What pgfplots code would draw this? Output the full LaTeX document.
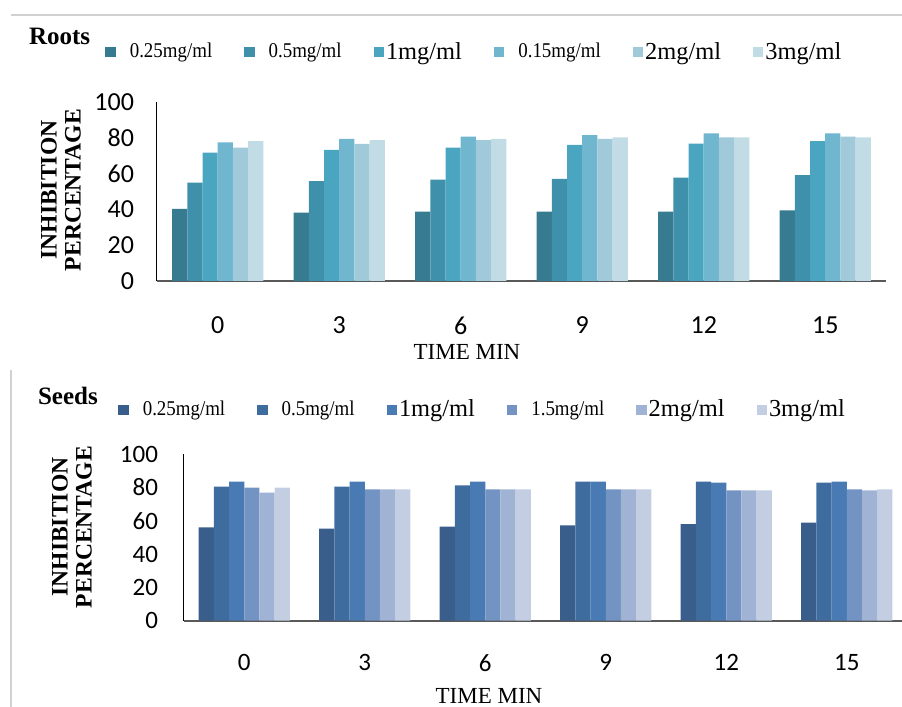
\documentclass[border=0pt]{standalone}
\usepackage{fontspec}
\setmainfont{Liberation Serif}
\newfontfamily\calibri{Carlito}
\usepackage{graphicx}
\usepackage{pgfplots}
\usepackage{pgfplotstable}
\pgfplotsset{compat=1.18}

% Roots colours
\definecolor{rA}{HTML}{367B90}
\definecolor{rB}{HTML}{3F90AA}
\definecolor{rC}{HTML}{4AA6C0}
\definecolor{rD}{HTML}{70B6CE}
\definecolor{rE}{HTML}{A0C9DA}
\definecolor{rF}{HTML}{C2DCE6}
% Seeds colours
\definecolor{sA}{HTML}{395E8B}
\definecolor{sB}{HTML}{3F6C9F}
\definecolor{sC}{HTML}{4A7AB3}
\definecolor{sD}{HTML}{7393C3}
\definecolor{sE}{HTML}{A0B3D4}
\definecolor{sF}{HTML}{C3CEE3}

\pgfplotstableread{
x a b c d e f
0 40.3 54.9 71.7 77.4 74.5 78.1
1 38.2 55.8 73.2 79.4 76.6 78.7
2 38.8 56.6 74.5 80.7 78.7 79.4
3 38.8 57.1 76.0 81.5 79.4 80.2
4 38.8 57.7 76.8 82.4 80.2 80.2
5 39.5 59.2 78.1 82.4 80.7 80.2
}\roots

\pgfplotstableread{
x a b c d e f
0 56.0 80.4 83.4 79.8 76.8 79.8
1 55.2 80.4 83.4 78.8 78.8 78.8
2 56.4 81.2 83.4 78.8 78.8 78.8
3 57.2 83.4 83.4 78.8 78.8 78.8
4 58.0 83.4 82.8 78.2 78.2 78.2
5 58.8 82.8 83.4 78.8 78.2 78.8
}\seeds

\newcommand{\dec}[1]{\hspace{2pt}\fontsize{10.5}{12}\selectfont\scalebox{0.9}[1]{#1}}
\newcommand{\whole}[1]{\hspace{-4pt}\fontsize{12.2}{13}\selectfont #1}

\pgfplotsset{
  chartbase/.style={
    scale only axis,
    ybar=0pt,
    bar width=7.6pt,
    ymin=0, ymax=100,
    ytick={0,20,...,100},
    xtick={0,...,5},
    xticklabels={0,3,6,9,12,15},
    major tick length=0pt,
    axis x line*=bottom,
    axis y line*=left,
    x axis line style={color=black!65, line width=0.9pt},
    y axis line style={color=black, line width=0.5pt},
    /pgf/number format/assume math mode=true,
    legend image code/.code={\fill[##1] (0pt,-2.6pt) rectangle (5.2pt,2.6pt);},
    legend style={draw=none, fill=none, inner sep=0pt,
      /tikz/every odd column/.append style={column sep=3pt},
      /tikz/every even column/.append style={column sep=14pt}},
    legend columns=6,
    legend cell align=left,
  },
}

\begin{document}
\begin{tikzpicture}
\useasboundingbox (0,0) rectangle (451pt,353.5pt);

% light frame lines of the pasted figure
\draw[black!18, line width=0.6pt] (5.5pt,346pt) -- (451pt,346pt);
\draw[black!18, line width=0.6pt] (5.5pt,168.5pt) -- (5.5pt,0pt);

% ---------- Roots ----------
\begin{axis}[chartbase,
  at={(78.5pt,213pt)}, anchor=south west,
  width=364.5pt, height=89.5pt,
  xmin=-0.5, xmax=5.5,
  yticklabel style={font=\calibri\fontsize{13}{13}\selectfont, xshift=-8pt},
  xticklabel style={font=\calibri\fontsize{13}{13}\selectfont, yshift=-14.5pt},
  legend style={at={(-0.0713,1.279)}, anchor=west},
]
\addplot[fill=rA, draw=none] table[x=x,y=a] {\roots};
\addplot[fill=rB, draw=none] table[x=x,y=b] {\roots};
\addplot[fill=rC, draw=none] table[x=x,y=c] {\roots};
\addplot[fill=rD, draw=none] table[x=x,y=d] {\roots};
\addplot[fill=rE, draw=none] table[x=x,y=e] {\roots};
\addplot[fill=rF, draw=none] table[x=x,y=f] {\roots};
\legend{\dec{0.25mg/ml},\dec{0.5mg/ml},\whole{1mg/ml},\dec{0.15mg/ml},\whole{2mg/ml},\whole{3mg/ml}}
\end{axis}

% ---------- Seeds ----------
\begin{axis}[chartbase,
  at={(92pt,43.15pt)}, anchor=south west,
  width=359pt, height=83.35pt,
  xmin=-0.5, xmax=5.458,
  yticklabel style={font=\calibri\fontsize{12.5}{12.5}\selectfont, xshift=-9.5pt},
  xticklabel style={font=\calibri\fontsize{12.5}{12.5}\selectfont, yshift=-13.5pt},
  legend style={at={(-0.0919,1.264)}, anchor=west},
]
\addplot[fill=sA, draw=none] table[x=x,y=a] {\seeds};
\addplot[fill=sB, draw=none] table[x=x,y=b] {\seeds};
\addplot[fill=sC, draw=none] table[x=x,y=c] {\seeds};
\addplot[fill=sD, draw=none] table[x=x,y=d] {\seeds};
\addplot[fill=sE, draw=none] table[x=x,y=e] {\seeds};
\addplot[fill=sF, draw=none] table[x=x,y=f] {\seeds};
\legend{\dec{0.25mg/ml},\dec{0.5mg/ml},\whole{1mg/ml},\dec{1.5mg/ml},\whole{2mg/ml},\whole{3mg/ml}}
\end{axis}

% titles and axis titles
\node[anchor=base west, font=\bfseries\fontsize{12.5}{12}\selectfont] at (11pt,331pt) {Roots};
\node[anchor=base west, font=\bfseries\fontsize{12.5}{12}\selectfont] at (15.5pt,151pt) {Seeds};
\node[rotate=90, align=center, font=\bfseries\fontsize{11.8}{12}\selectfont] at (30.5pt,258.5pt) {INHIBITION\\PERCENTAGE};
\node[rotate=90, align=center, font=\bfseries\fontsize{11.8}{12}\selectfont] at (36pt,90pt) {INHIBITION\\PERCENTAGE};
\node[font=\fontsize{11.5}{12}\selectfont] at (233.5pt,177.5pt) {TIME MIN};
\node[font=\fontsize{11.5}{12}\selectfont] at (244.5pt,5.5pt) {TIME MIN};
\end{tikzpicture}
\end{document}
